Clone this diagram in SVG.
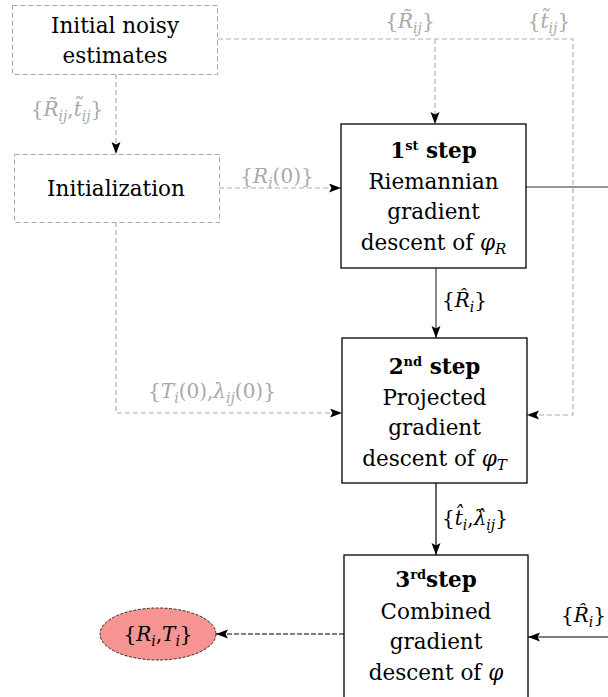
<svg xmlns="http://www.w3.org/2000/svg" width="608" height="697" viewBox="0 0 608 697">
<style>
text{font-family:'DejaVu Serif','Liberation Serif',serif}
.t{font-size:21.5px;fill:#000;text-anchor:middle}
.b{font-weight:bold}
.lab{font-size:20px;fill:#a8a8a8}
.lk{font-size:20px;fill:#000}
.i{font-style:italic}
.dbox{fill:#fff;stroke:#a8a8a8;stroke-width:1;stroke-dasharray:5,3}
.sbox{fill:#fff;stroke:#000;stroke-width:1.3}
.dg{fill:none;stroke:#b0b0b0;stroke-width:1.2;stroke-dasharray:5,3}
.sg{fill:none;stroke:#707070;stroke-width:1.6}
.sk{fill:none;stroke:#000;stroke-width:1.2}
.dk{fill:none;stroke:#000;stroke-width:1.1;stroke-dasharray:5,2}
</style>
<defs>
<marker id="ah" markerUnits="userSpaceOnUse" markerWidth="13" markerHeight="10" refX="12" refY="4.5" orient="auto">
<path d="M0,0 L12,4.5 L0,9 L2.5,4.5 z" fill="#000"/>
</marker>
</defs>

<g id="connectors">
<path class="dg" d="M116,74 V154" marker-end="url(#ah)"/>
<path class="dg" d="M218,39 H573 V415 H527" marker-end="url(#ah)"/>
<path class="dg" d="M435,39 V124" marker-end="url(#ah)"/>
<path class="dg" d="M219,188 H341" marker-end="url(#ah)"/>
<path class="dg" d="M116,222 V413 H342" marker-end="url(#ah)"/>
<path class="sg" d="M436,268 V338" marker-end="url(#ah)"/>
<path class="sg" d="M526,187 H608"/>
<path class="sk" d="M436,483 V555" marker-end="url(#ah)"/>
<path class="sk" d="M608,637 H528" marker-end="url(#ah)"/>
<path class="dk" d="M344,634 H216" marker-end="url(#ah)"/>
</g>

<g id="labels">
<text class="lab" x="410" y="28" text-anchor="middle">{<tspan class="i">R&#771;</tspan><tspan class="i" font-size="14" dy="5">ij</tspan><tspan dy="-5">}</tspan></text>
<text class="lab" x="549" y="28" text-anchor="middle">{<tspan class="i">t&#771;</tspan><tspan class="i" font-size="14" dy="5">ij</tspan><tspan dy="-5">}</tspan></text>
<text class="lab" x="67" y="116" text-anchor="middle">{<tspan class="i">R&#771;</tspan><tspan class="i" font-size="14" dy="5">ij</tspan><tspan dy="-5">,</tspan><tspan class="i">t&#771;</tspan><tspan class="i" font-size="14" dy="5">ij</tspan><tspan dy="-5">}</tspan></text>
<text class="lab" x="277" y="183" text-anchor="middle">{<tspan class="i">R</tspan><tspan class="i" font-size="14" dy="5">i</tspan><tspan dy="-5">(0)}</tspan></text>
<text class="lab" x="212" y="398" text-anchor="middle">{<tspan class="i">T</tspan><tspan class="i" font-size="14" dy="5">i</tspan><tspan dy="-5">(0),</tspan><tspan class="i">λ</tspan><tspan class="i" font-size="14" dy="5">ij</tspan><tspan dy="-5">(0)}</tspan></text>
<text class="lk" x="442" y="307">{<tspan class="i">R&#770;</tspan><tspan class="i" font-size="14" dy="5">i</tspan><tspan dy="-5">}</tspan></text>
<text class="lk" x="442" y="525">{<tspan class="i">t&#770;</tspan><tspan class="i" font-size="14" dy="5">i</tspan><tspan dy="-5">,</tspan><tspan class="i">λ&#770;</tspan><tspan class="i" font-size="14" dy="5">ij</tspan><tspan dy="-5">}</tspan></text>
<text class="lk" x="561" y="622">{<tspan class="i">R&#770;</tspan><tspan class="i" font-size="14" dy="5">i</tspan><tspan dy="-5">}</tspan></text>
</g>

<g id="n-initial">
<rect class="dbox" x="12.5" y="5.5" width="205" height="69"/>
<text class="t" x="115" y="33">Initial noisy</text>
<text class="t" x="115" y="63">estimates</text>
</g>

<g id="n-init">
<rect class="dbox" x="14.5" y="154.5" width="205" height="68"/>
<text class="t" x="116" y="196">Initialization</text>
</g>

<g id="n-step1">
<rect class="sbox" x="341" y="124" width="185" height="144"/>
<text class="t" x="433.5" y="158"><tspan class="b">1</tspan><tspan class="b" font-size="13" dy="-8">st</tspan><tspan class="b" dy="8"> step</tspan></text>
<text class="t" x="433.5" y="189">Riemannian</text>
<text class="t" x="433.5" y="219">gradient</text>
<text class="t" x="433.5" y="250">descent of <tspan class="i">φ</tspan><tspan class="i" font-size="15" dy="4">R</tspan></text>
</g>

<g id="n-step2">
<rect class="sbox" x="342" y="338" width="185" height="145"/>
<text class="t" x="434.5" y="374"><tspan class="b">2</tspan><tspan class="b" font-size="13" dy="-8">nd</tspan><tspan class="b" dy="8"> step</tspan></text>
<text class="t" x="434.5" y="405">Projected</text>
<text class="t" x="434.5" y="435">gradient</text>
<text class="t" x="434.5" y="466">descent of <tspan class="i">φ</tspan><tspan class="i" font-size="15" dy="4">T</tspan></text>
</g>

<g id="n-step3">
<rect class="sbox" x="344" y="555" width="184" height="160"/>
<text class="t" x="436" y="587"><tspan class="b">3</tspan><tspan class="b" font-size="13" dy="-8">rd</tspan><tspan class="b" dy="8">step</tspan></text>
<text class="t" x="436" y="619">Combined</text>
<text class="t" x="436" y="649">gradient</text>
<text class="t" x="436" y="680">descent of <tspan class="i">φ</tspan></text>
</g>

<g id="n-result">
<ellipse cx="158" cy="634" rx="58" ry="26" fill="#f69393" stroke="#000" stroke-width="0.8" stroke-dasharray="3,1.5"/>
<text class="lk" x="158" y="641" text-anchor="middle">{<tspan class="i">R</tspan><tspan class="i" font-size="14" dy="5">i</tspan><tspan dy="-5">,</tspan><tspan class="i">T</tspan><tspan class="i" font-size="14" dy="5">i</tspan><tspan dy="-5">}</tspan></text>
</g>
</svg>
